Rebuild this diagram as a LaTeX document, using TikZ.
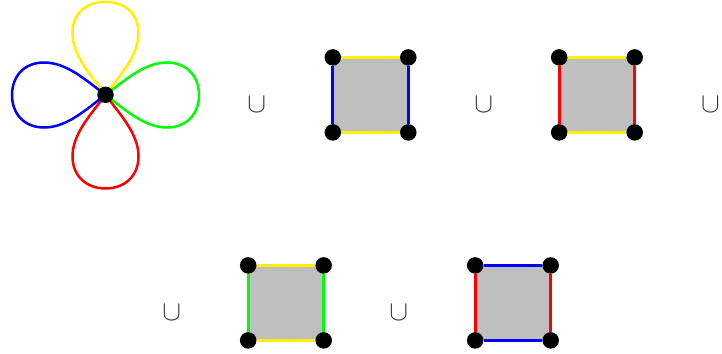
\documentclass[tikz,border=0pt]{standalone}
\usetikzlibrary{backgrounds}
\definecolor{cellgray}{RGB}{191,191,191}
\definecolor{petalyellow}{RGB}{255,240,0}
\definecolor{petalgreen}{RGB}{0,255,0}
\definecolor{petalblue}{RGB}{0,0,255}
\definecolor{petalred}{RGB}{255,0,0}
\tikzset{
  dot/.style={circle,fill=black,draw=none,inner sep=0pt,minimum size=16.5pt},
  petal/.style={line width=2.5pt,line cap=round},
  edgeline/.style={line width=3.2pt},
  cupsign/.style={inner sep=0pt,text=black!80,scale=2.8}
}
\newcommand{\cellsquare}[5]{%
  \node[dot] (#1a) at (#2,#3) {};
  \node[dot] (#1b) at (#2+75.5,#3) {};
  \node[dot] (#1c) at (#2+75.5,#3+75) {};
  \node[dot] (#1d) at (#2,#3+75) {};
  \begin{pgfonlayer}{background}
    \fill[cellgray] (#1a.center) -- (#1b.center) -- (#1c.center) -- (#1d.center) -- cycle;
    \draw[edgeline,#4] (#1a) -- (#1b);
    \draw[edgeline,#4] (#1d) -- (#1c);
    \draw[edgeline,#5] (#1a) -- (#1d);
    \draw[edgeline,#5] (#1b) -- (#1c);
  \end{pgfonlayer}
}
\begin{document}
\begin{tikzpicture}[x=1pt,y=-1pt]
\useasboundingbox (0,0) rectangle (722,353);
% wedge of four circles
\coordinate (hub) at (105.5,94.8);
\draw[petal,petalyellow] (hub) .. controls (120,75) and (138.5,56) .. (138.5,33)
  .. controls (138.5,13) and (124,1.8) .. (105.5,1.8)
  .. controls (87,1.8) and (72.5,13) .. (72.5,33)
  .. controls (72.5,56) and (91,75) .. (hub);
\draw[petal,petalred] (hub) .. controls (120,114.5) and (138.5,133.5) .. (138.5,156.5)
  .. controls (138.5,176.5) and (124,188.5) .. (105.5,188.5)
  .. controls (87,188.5) and (72.5,176.5) .. (72.5,156.5)
  .. controls (72.5,133.5) and (91,114.5) .. (hub);
\draw[petal,petalgreen] (hub) .. controls (125,80.5) and (144,62.5) .. (167,62.5)
  .. controls (187,62.5) and (199,76.5) .. (199,95)
  .. controls (199,113.5) and (187,127.5) .. (167,127.5)
  .. controls (144,127.5) and (125,109.5) .. (hub);
\draw[petal,petalblue] (hub) .. controls (86,80.5) and (67,62.5) .. (44,62.5)
  .. controls (24,62.5) and (12,76.5) .. (12,95)
  .. controls (12,113.5) and (24,127.5) .. (44,127.5)
  .. controls (67,127.5) and (86,109.5) .. (hub);
\node[dot] (hubdot) at (hub) {};
% cells
\cellsquare{p}{332.8}{57.4}{petalyellow}{petalblue}
\cellsquare{q}{559.2}{57.4}{petalyellow}{petalred}
\cellsquare{r}{248.2}{265.4}{petalyellow}{petalgreen}
\cellsquare{s}{475.2}{265.4}{petalblue}{petalred}
% union signs
\node[cupsign] (u1) at (256.8,104.8) {$\cup$};
\node[cupsign] (u2) at (483.8,104.8) {$\cup$};
\node[cupsign] (u3) at (710.5,104.8) {$\cup$};
\node[cupsign] (u4) at (171.8,312.3) {$\cup$};
\node[cupsign] (u5) at (398.8,312.3) {$\cup$};
\end{tikzpicture}
\end{document}
